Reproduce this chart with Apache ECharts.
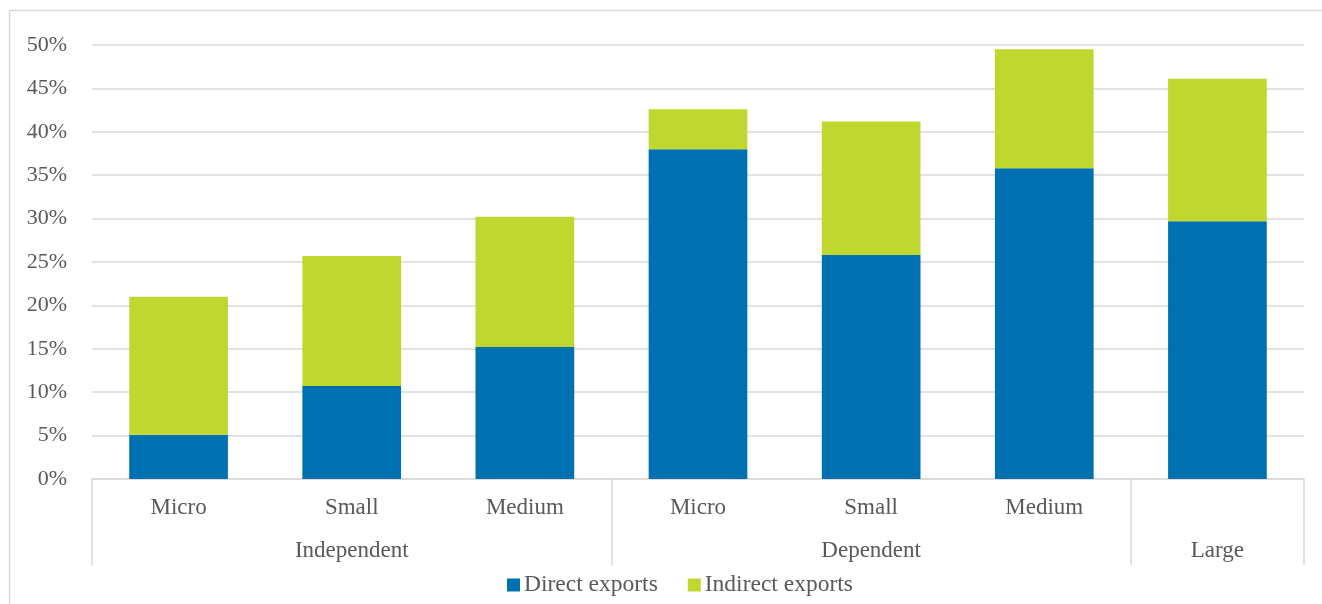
<!DOCTYPE html>
<html>
<head>
<meta charset="utf-8">
<script src="https://cdn.jsdelivr.net/npm/echarts@6/dist/echarts.min.js"></script>
<style>
  html, body { margin: 0; padding: 0; background: #fff; }
  #chart { width: 1322px; height: 604px; }
</style>
</head>
<body>
<div id="chart"></div>
<script>
// Export share by firm type (percent of firms)
const sizeLabels = ['Micro', 'Small', 'Medium', 'Micro', 'Small', 'Medium', ''];
const groupLabels = ['Independent', 'Dependent', 'Large'];
const groupCenters = [1.5, 4.5, 6.5];
const groupBounds = [0, 3, 6, 7];
const directExports = [5.1, 10.7, 15.2, 38.0, 25.8, 35.8, 29.7];
const indirectExports = [15.9, 15.0, 15.0, 4.6, 15.4, 13.7, 16.4];
const yTicks = [0, 5, 10, 15, 20, 25, 30, 35, 40, 45, 50];

const textColor = '#595959';
const lineColor = '#d9d9d9';
const font = '"Liberation Serif", "Times New Roman", serif';

const chart = echarts.init(document.getElementById('chart'));
chart.setOption({
  animation: false,
  textStyle: { fontFamily: font },
  graphic: [{
    type: 'rect',
    shape: { x: 9.5, y: 10.5, width: 1330, height: 620 },
    style: { fill: 'none', stroke: lineColor, lineWidth: 1.5 },
    silent: true
  }],
  grid: { left: 92, right: 18, top: 45, bottom: 125, containLabel: false },
  legend: {
    bottom: 2,
    left: 502,
    icon: 'rect',
    itemWidth: 13,
    itemHeight: 13,
    itemGap: 30,
    textStyle: { color: textColor, fontSize: 23.5, fontFamily: font, padding: [0, 0, 0, -1] },
    data: ['Direct exports', 'Indirect exports']
  },
  xAxis: [{
    type: 'category',
    data: sizeLabels,
    axisLine: { lineStyle: { color: lineColor, width: 1.5 } },
    axisTick: { show: false },
    axisLabel: { color: textColor, fontSize: 23, margin: 17, fontFamily: font, interval: 0 }
  }, {
    type: 'value',
    min: 0,
    max: 7,
    position: 'bottom',
    axisLine: { show: false },
    splitLine: { show: false },
    axisTick: {
      show: true,
      customValues: groupBounds,
      length: 86,
      lineStyle: { color: lineColor, width: 1.5 }
    },
    axisLabel: {
      customValues: groupCenters,
      formatter: v => groupLabels[groupCenters.indexOf(v)],
      color: textColor, fontSize: 23, margin: 60, fontFamily: font
    }
  }],
  yAxis: {
    type: 'value',
    min: 0,
    max: 50,
    interval: 5,
    axisLine: { show: false },
    axisTick: { show: false },
    splitLine: { lineStyle: { color: lineColor, width: 1.5 } },
    axisLabel: {
      color: textColor, fontSize: 22, margin: 25, fontFamily: font,
      formatter: v => yTicks.includes(v) ? v + '%' : ''
    }
  },
  series: [{
    name: 'Direct exports',
    type: 'bar',
    stack: 'exports',
    xAxisIndex: 0,
    barWidth: '57%',
    itemStyle: { color: '#0071b0' },
    data: directExports
  }, {
    name: 'Indirect exports',
    type: 'bar',
    stack: 'exports',
    xAxisIndex: 0,
    barWidth: '57%',
    itemStyle: { color: '#c0d72f' },
    data: indirectExports
  }]
});
</script>
</body>
</html>
